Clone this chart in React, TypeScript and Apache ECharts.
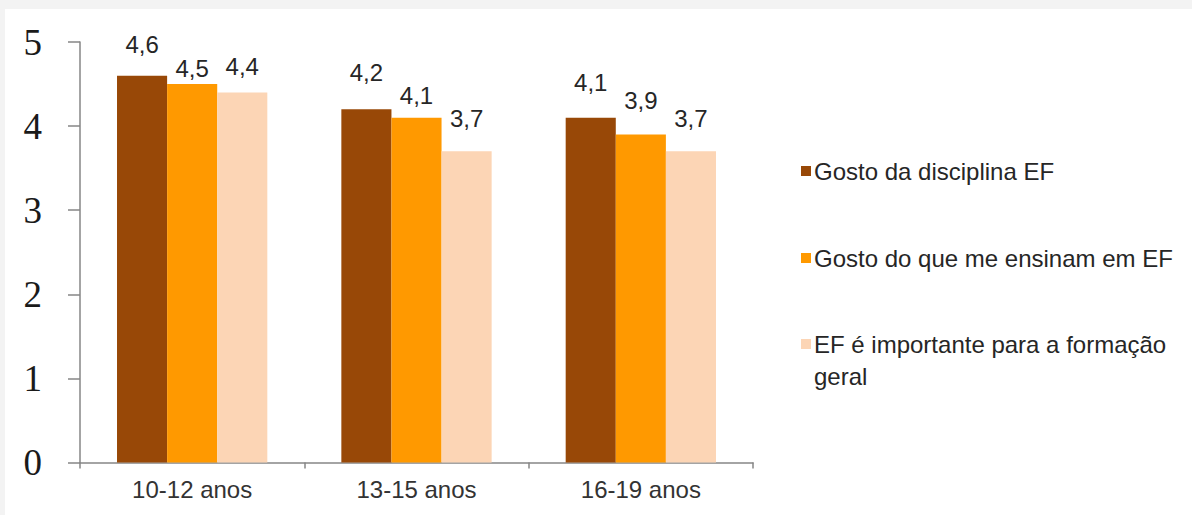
import React, { useEffect, useRef } from "react";
import * as echarts from "echarts";

const categories = ["10-12 anos", "13-15 anos", "16-19 anos"];
const seriesNames = [
  "Gosto da disciplina EF",
  "Gosto do que me ensinam em EF",
  "EF é importante para a formação geral",
];
const gostoDisciplina = [4.6, 4.2, 4.1];
const gostoEnsinam = [4.5, 4.1, 3.9];
const importanteFormacao = [4.4, 3.7, 3.7];
const yTicks = [0, 1, 2, 3, 4, 5];

const colors = ["#984807", "#ff9900", "#fcd5b5"];
// label distance above each bar (styling only)
const labelDistances = [
  [19, 25, 23],
  [4, 10, 22],
  [14, 21, 21],
];

export default function App() {
  const ref = useRef<HTMLDivElement>(null);
  useEffect(() => {
    if (!ref.current) return;
    const chart = echarts.init(ref.current, null, { renderer: "svg" });
    const values = [gostoDisciplina, gostoEnsinam, importanteFormacao];
    const labelFont = {
      fontFamily: "'Liberation Sans', Arial, sans-serif",
      fontSize: 24,
      color: "#262626",
    };
    chart.setOption({
      animation: false,
      backgroundColor: "#ffffff",
      grid: { left: 75, right: 439, top: 33, bottom: 52.5, containLabel: false },
      xAxis: {
        type: "category",
        data: categories,
        axisLine: { lineStyle: { color: "#868686", width: 1.5 } },
        axisTick: { show: true, length: 6, lineStyle: { color: "#868686", width: 1.5 } },
        axisLabel: { ...labelFont, color: "#333333", margin: 15 },
      },
      yAxis: {
        type: "value",
        min: yTicks[0],
        max: yTicks[yTicks.length - 1],
        interval: 1,
        splitLine: { show: false },
        axisLine: { show: true, lineStyle: { color: "#868686", width: 1.5 } },
        axisTick: { show: true, length: 12, lineStyle: { color: "#868686", width: 1.5 } },
        axisLabel: {
          fontFamily: "'Liberation Serif', 'Times New Roman', serif",
          fontSize: 37,
          color: "#1a1a1a",
          margin: 38,
        },
      },
      legend: [
        {
          orient: "vertical",
          left: 791,
          top: 145,
          data: [seriesNames[0]],
          icon: "rect",
          itemWidth: 10,
          itemHeight: 10,
          itemGap: 0,
          textStyle: { ...labelFont, lineHeight: 24, padding: [0, 0, 0, -2] },
        },
        {
          orient: "vertical",
          left: 791,
          top: 232,
          data: [seriesNames[1]],
          icon: "rect",
          itemWidth: 10,
          itemHeight: 10,
          itemGap: 0,
          textStyle: { ...labelFont, lineHeight: 24, padding: [0, 0, 0, -2] },
        },
        {
          orient: "vertical",
          left: 791,
          top: 314,
          data: [seriesNames[2]],
          icon: "path://M0,0L10,0L10,10L0,10Z M0,42L0.01,42",
          itemWidth: 10,
          itemHeight: 42,
          itemGap: 0,
          formatter: () => "EF é importante para a formação\ngeral",
          textStyle: { ...labelFont, lineHeight: 32, padding: [0, 0, 0, -2] },
        },
      ],
      series: seriesNames.map((name, si) => ({
        name,
        type: "bar",
        barGap: "0%",
        barCategoryGap: "33%",
        itemStyle: { color: colors[si] },
        data: values[si].map((v, ci) => ({
          value: v,
          label: { distance: labelDistances[si][ci] },
        })),
        label: {
          show: true,
          position: "top",
          ...labelFont,
          formatter: (p: any) => String(p.value).replace(".", ","),
        },
      })),
    });
    return () => chart.dispose();
  }, []);
  return (
    <div
      style={{
        position: "fixed",
        left: 0,
        top: 0,
        width: 1192,
        height: 515,
        background: "#f3f3f3",
      }}
    >
      <div
        ref={ref}
        style={{ position: "absolute", left: 5, top: 9, width: 1187, height: 506 }}
      />
    </div>
  );
}
